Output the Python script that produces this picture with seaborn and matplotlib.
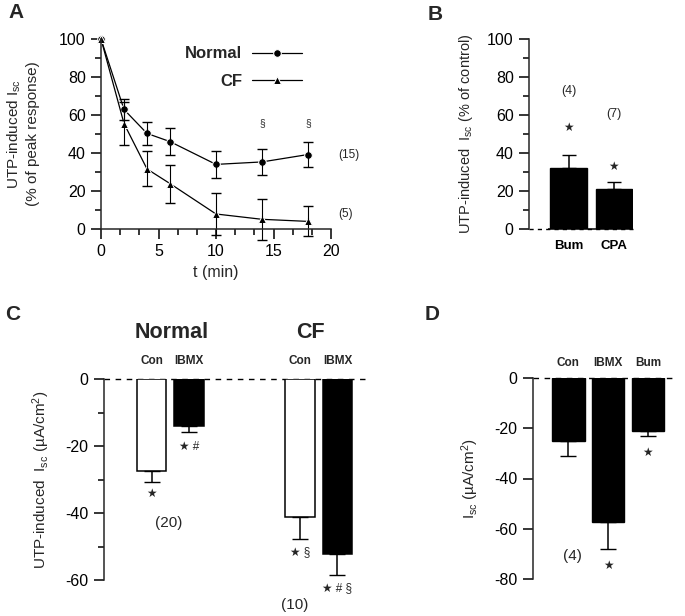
import numpy as np
import pandas as pd
import matplotlib
matplotlib.use("Agg")
import matplotlib.pyplot as plt
import seaborn as sns
from matplotlib.ticker import MultipleLocator

# ==============================
# DATA
# ==============================

t_min = [0, 2, 4, 6, 10, 14, 18]
normal_pct = [100, 62.9, 50.3, 46.0, 34.0, 35.3, 39.2]
normal_sem = [0, 5.3, 6.0, 7.0, 7.0, 7.0, 6.8]
cf_pct = [100, 55.5, 31.6, 23.9, 7.9, 5.1, 4.0]
cf_sem = [0, 11.4, 9.2, 10.0, 11.0, 10.7, 7.9]

b_treat = ["Bum", "CPA"]
b_mean = [32.2, 21.0]
b_sem = [6.6, 3.8]
b_n = ["(4)", "(7)"]

c_keys = ["Normal Con", "Normal IBMX", "CF Con", "CF IBMX"]
c_treat = ["Con", "IBMX", "Con", "IBMX"]
c_mean = [-27.5, -13.9, -41.1, -52.2]
c_sem = [3.3, 1.8, 6.7, 6.3]
c_marks = ["★", "★ #", "★ §", "★ # §"]

d_treat = ["Con", "IBMX", "Bum"]
d_mean = [-25.1, -57.4, -21.0]
d_sem = [5.8, 10.6, 1.9]

# ==============================
# STYLE
# ==============================

sns.set_style("ticks")
plt.rcParams['font.family'] = ['Liberation Sans', 'DejaVu Sans']
plt.rcParams['mathtext.default'] = 'regular'
plt.rcParams['axes.unicode_minus'] = False
plt.rcParams['axes.linewidth'] = 1.1
for ax_name in ['xtick', 'ytick']:
    plt.rcParams[ax_name + '.major.size'] = 7.5
    plt.rcParams[ax_name + '.minor.size'] = 4
    plt.rcParams[ax_name + '.major.width'] = 1.1
    plt.rcParams[ax_name + '.minor.width'] = 1.1
    plt.rcParams[ax_name + '.labelsize'] = 11.5
    plt.rcParams[ax_name + '.color'] = 'black'

fig = plt.figure(figsize=(6.85, 6.16), dpi=100)
W, H = 685, 616


def add_ax(left, top, right, bottom):
    return fig.add_axes([left / W, 1 - bottom / H, (right - left) / W, (bottom - top) / H])


# ==============================
# PANEL A
# ==============================

axA = add_ax(101, 39, 331, 229)
dfA = pd.DataFrame({
    "t": t_min * 2,
    "val": normal_pct + cf_pct,
    "group": ["Normal"] * len(t_min) + ["CF"] * len(t_min),
})
sns.lineplot(data=dfA, x="t", y="val", hue="group", style="group",
             markers={"Normal": "o", "CF": "^"}, dashes=False,
             palette={"Normal": "black", "CF": "black"},
             markersize=5.5, linewidth=0.9, ax=axA)
axA.errorbar(t_min[1:], normal_pct[1:], yerr=normal_sem[1:], fmt="none",
             ecolor="black", elinewidth=0.8, capsize=3.8, clip_on=False)
axA.errorbar(t_min[1:], cf_pct[1:], yerr=cf_sem[1:], fmt="none",
             ecolor="black", elinewidth=0.8, capsize=3.8, clip_on=False)
for art in axA.get_children():
    try:
        art.set_clip_on(False)
    except Exception:
        pass
axA.set_xlim(0, 20)
axA.set_ylim(0, 100)
axA.xaxis.set_major_locator(MultipleLocator(5))
axA.xaxis.set_minor_locator(MultipleLocator(5 / 3))
axA.yaxis.set_major_locator(MultipleLocator(20))
axA.yaxis.set_minor_locator(MultipleLocator(10))
axA.set_xlabel("t (min)", fontsize=11.5, labelpad=4)
axA.set_ylabel("UTP-induced I$_{sc}$\n(% of peak response)", fontsize=11, labelpad=14)
sns.despine(ax=axA)
leg = axA.legend(loc="upper left", bbox_to_anchor=(0.3, 1.04), frameon=False,
                 markerfirst=False, handlelength=3.0, fontsize=12, labelspacing=0.75,
                 handletextpad=0.6)
for txt in leg.get_texts():
    txt.set_fontweight("bold")
for x in [14, 18]:
    axA.text(x, 53, "§", ha="center", va="bottom", fontsize=7.5)
axA.text(20.6, 39, "(15)", va="center", fontsize=8.5)
axA.text(20.6, 5, "(5)", va="bottom", fontsize=8.5)

# ==============================
# PANEL B
# ==============================

axB = add_ax(529, 39, 633, 229)
sns.barplot(x=b_treat, y=b_mean, color="black", width=0.8, errorbar=None,
            edgecolor="black", ax=axB)
axB.errorbar(range(len(b_treat)), b_mean, yerr=[[0] * len(b_sem), b_sem], fmt="none",
             ecolor="black", elinewidth=1.1, capsize=5, zorder=1)
axB.set_xlim(-0.87, 1.42)
axB.set_ylim(0, 100)
axB.yaxis.set_major_locator(MultipleLocator(20))
axB.yaxis.set_minor_locator(MultipleLocator(10))
axB.spines[["top", "right", "bottom"]].set_visible(False)
axB.axhline(0, color="black", lw=1.0, ls=(0, (3, 3)), clip_on=False)
axB.hlines(0, -0.45, 1.42, color="black", lw=1.1, clip_on=False)
axB.tick_params(axis="x", length=0, pad=8)
axB.set_xticks(range(len(b_treat)))
axB.set_xticklabels(b_treat, fontsize=9.5, fontweight="bold")
axB.set_ylabel("UTP-induced  I$_{sc}$ (% of control)", fontsize=10.5, labelpad=9)
axB.text(0, 72.6, b_n[0], ha="center", va="center", fontsize=9)
axB.text(0, 53, "★", ha="center", va="center", fontsize=8.5)
axB.text(1, 60.5, b_n[1], ha="center", va="center", fontsize=9)
axB.text(1, 32.6, "★", ha="center", va="center", fontsize=8.5)

# ==============================
# PANEL C
# ==============================

axC = add_ax(104, 379, 365, 580)
c_order = ["Normal Con", "Normal IBMX", "gap1", "gap2", "CF Con", "CF IBMX"]
c_colors = {"Normal Con": "white", "Normal IBMX": "black", "CF Con": "white", "CF IBMX": "black"}
sns.barplot(x=c_keys, y=c_mean, hue=c_keys, order=c_order, palette=c_colors,
            width=0.8, edgecolor="black", linewidth=1.1, errorbar=None, legend=False, ax=axC)
c_pos = [c_order.index(k) for k in c_keys]
axC.errorbar(c_pos, c_mean, yerr=[c_sem, [0] * len(c_sem)], fmt="none",
             ecolor="black", elinewidth=1.1, capsize=5.5, zorder=1)
axC.set_xlim(-1.28, 5.74)
axC.set_ylim(-60, 0)
axC.yaxis.set_major_locator(MultipleLocator(20))
axC.yaxis.set_minor_locator(MultipleLocator(10))
axC.spines[["top", "right", "bottom"]].set_visible(False)
axC.set_xticks([])
axC.axhline(0, color="black", lw=1.0, ls=(0, (4, 4)), clip_on=False, zorder=0)
axC.set_ylabel("UTP-induced  I$_{sc}$ (µA/cm$^2$)", fontsize=11, labelpad=10)
for p, tr in zip(c_pos, c_treat):
    axC.text(p, 5.4, tr, ha="center", va="center", fontsize=8.5, fontweight="bold")
axC.text(0.55, 14, "Normal", ha="center", va="center", fontsize=15.5, fontweight="bold")
axC.text(4.27, 14, "CF", ha="center", va="center", fontsize=15.5, fontweight="bold")
c_mark_y = [-34.3, -20.3, -51.6, -62.4]
for p, m, y in zip(c_pos, c_marks, c_mark_y):
    axC.text(p, y, m, ha="center", va="center", fontsize=8.5)
axC.text(0.45, -43, "(20)", ha="center", va="center", fontsize=11)
axC.text(3.85, -67.5, "(10)", ha="center", va="center", fontsize=11)

# ==============================
# PANEL D
# ==============================

axD = add_ax(533, 378, 677, 579)
sns.barplot(x=d_treat, y=d_mean, color="black", width=0.82, errorbar=None,
            edgecolor="black", ax=axD)
axD.errorbar(range(len(d_treat)), d_mean, yerr=[d_sem, [0] * len(d_sem)], fmt="none",
             ecolor="black", elinewidth=1.1, capsize=5.5, zorder=1)
axD.set_xlim(-0.89, 2.73)
axD.set_ylim(-80, 0)
axD.yaxis.set_major_locator(MultipleLocator(20))
axD.spines[["top", "right", "bottom"]].set_visible(False)
axD.set_xticks([])
axD.axhline(0, color="black", lw=1.0, ls=(0, (4, 4)), clip_on=False, zorder=0)
axD.set_ylabel("I$_{sc}$ (µA/cm$^2$)", fontsize=11, labelpad=10)
for i, tr in enumerate(d_treat):
    axD.text(i, 6, tr, ha="center", va="center", fontsize=8.5, fontweight="bold")
axD.text(0.1, -71, "(4)", ha="center", va="center", fontsize=11)
axD.text(1, -75, "★", ha="center", va="center", fontsize=8.5)
axD.text(2, -30, "★", ha="center", va="center", fontsize=8.5)

# ==============================
# PANEL LETTERS
# ==============================

for letter, x, y in [("A", 8, 12), ("B", 428, 14), ("C", 5, 314), ("D", 425, 314)]:
    fig.text(x / W, 1 - y / H, letter, fontsize=15, fontweight="bold", va="center")

fig.savefig("out.png", dpi=100)
